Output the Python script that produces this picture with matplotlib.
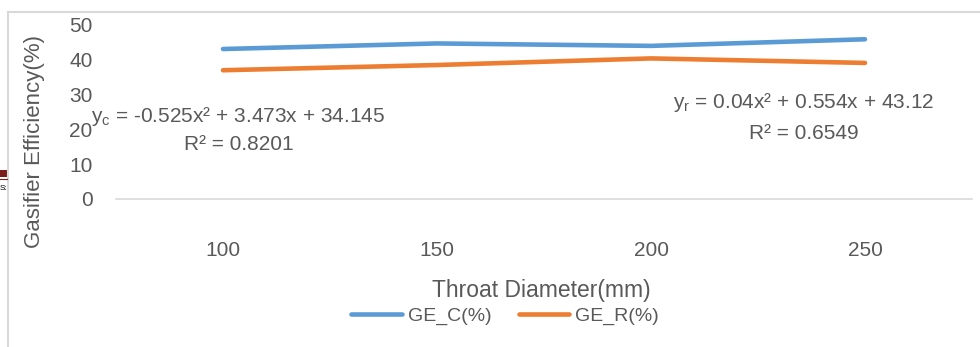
import matplotlib.pyplot as plt
from matplotlib.lines import Line2D
from matplotlib.patches import Rectangle

plt.rcParams.update({
    'font.family': ['Liberation Sans', 'DejaVu Sans'],
    'mathtext.fontset': 'custom',
    'mathtext.rm': 'Liberation Sans',
    'mathtext.it': 'Liberation Sans',
    'text.color': '#595959',
})

# Throat diameter categories and gasifier efficiency series
throat_labels = ['100', '150', '200', '250']
ge_c = [43.1, 44.7, 44.0, 45.9]
ge_r = [37.0, 38.5, 40.4, 39.1]
y_ticks = [0, 10, 20, 30, 40, 50]

W, H = 980, 347
fig = plt.figure(figsize=(W / 100, H / 100), dpi=100)
fig.patch.set_facecolor('white')


def fx(px):
    return px / W


def fy(py):
    return 1 - py / H


ax = fig.add_axes([fx(116), fy(199), fx(972) - fx(116), fy(25) - fy(199)])
xs = list(range(len(throat_labels)))
ax.plot(xs, ge_c, color='#5B9BD5', lw=3.3, solid_capstyle='round', label='GE_C(%)')
ax.plot(xs, ge_r, color='#ED7D31', lw=3.3, solid_capstyle='round', label='GE_R(%)')

ax.set_xlim(-0.5, len(xs) - 0.5)
ax.set_ylim(0, 50)
ax.set_xticks(xs)
ax.set_xticklabels(throat_labels)
ax.set_yticks(y_ticks)
ax.tick_params(axis='both', length=0, labelsize=15, labelcolor='#595959')
ax.tick_params(axis='x', pad=30)
ax.tick_params(axis='y', pad=17)
for side in ['top', 'right', 'left']:
    ax.spines[side].set_visible(False)
ax.spines['bottom'].set_color('#d9d9d9')
ax.spines['bottom'].set_linewidth(1.2)

# trendline equations
fig.text(fx(238), fy(117), r'y$_{\mathrm{c}}$ = -0.525x² + 3.473x + 34.145',
         ha='center', va='center', fontsize=15)
fig.text(fx(239), fy(145), 'R² = 0.8201', ha='center', va='center', fontsize=15)
fig.text(fx(804), fy(103), r'y$_{\mathrm{r}}$ = 0.04x² + 0.554x + 43.12',
         ha='center', va='center', fontsize=15)
fig.text(fx(804), fy(133), 'R² = 0.6549', ha='center', va='center', fontsize=15)

fig.text(fx(35), fy(141), 'Gasifier Efficiency(%)', rotation=90,
         ha='center', va='center', fontsize=16)
fig.text(fx(541), fy(290), 'Throat Diameter(mm)', ha='center', va='center', fontsize=16.5)

fig.legend(loc='center', bbox_to_anchor=(fx(505), fy(316)), ncol=2, frameon=False,
           fontsize=14, handlelength=2.6, handletextpad=0.3, columnspacing=1.4,
           labelcolor='#595959')

# chart frame and page bits at the left edge
fig.add_artist(Line2D([fx(8), 1], [fy(12), fy(12)], color='#d9d9d9', lw=1.5))
fig.add_artist(Line2D([fx(8), fx(8)], [fy(12), 0], color='#d9d9d9', lw=1.5))
fig.add_artist(Rectangle((0, fy(177)), fx(7), fy(170) - fy(177), color='#7b1c1c', lw=0))
fig.add_artist(Line2D([0, fx(7)], [fy(179), fy(179)], color='#7b1c1c', lw=0.8))
fig.text(fx(0), fy(189), 'S:', ha='left', va='center', fontsize=6, color='black')

fig.savefig('out.png', dpi=100)
